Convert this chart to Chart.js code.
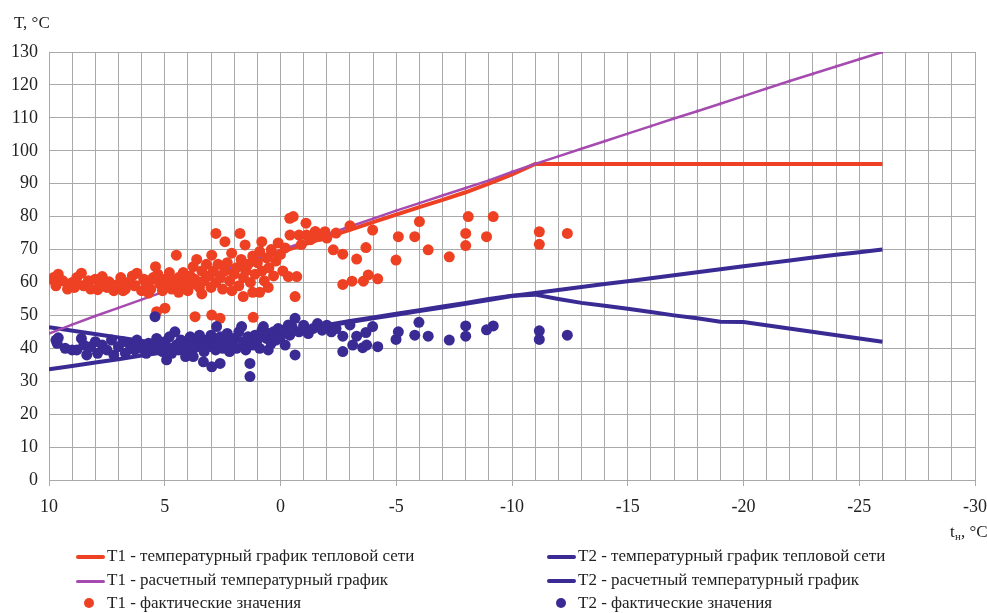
<!DOCTYPE html>
<html>
<head>
<meta charset="utf-8">
<script src="https://cdn.jsdelivr.net/npm/chart.js@4.4.1/dist/chart.umd.min.js"></script>
<style>
  body { margin: 0; background: #fff; }
  #wrap { position: relative; width: 987px; height: 613px; }
  .leg { position: absolute; font: 17px "Liberation Serif", "Times New Roman", serif; color: #222; white-space: nowrap; line-height: 20px; }
  .sw { position: absolute; height: 4px; width: 29px; border-radius: 2px; }
  .dot { position: absolute; width: 10px; height: 10px; border-radius: 50%; }
</style>
</head>
<body>
<div id="wrap">
  <canvas id="chart-temp"></canvas>
  <div class="sw" style="left:76px;top:555px;background:#ee4023"></div>
  <div class="leg" style="left:107px;top:546px">T1 - температурный график тепловой сети</div>
  <div class="sw" style="left:76px;top:580px;height:3px;background:#a54bb0"></div>
  <div class="leg" style="left:107px;top:570px">T1 - расчетный температурный график</div>
  <div class="dot" style="left:84px;top:598px;background:#ee4023"></div>
  <div class="leg" style="left:107px;top:593px">T1 - фактические значения</div>

  <div class="sw" style="left:547px;top:555px;background:#3a2a94"></div>
  <div class="leg" style="left:578px;top:546px">T2 - температурный график тепловой сети</div>
  <div class="sw" style="left:547px;top:579px;background:#3a2a94"></div>
  <div class="leg" style="left:578px;top:570px">T2 - расчетный температурный график</div>
  <div class="dot" style="left:556px;top:598px;background:#3a2a94"></div>
  <div class="leg" style="left:578px;top:593px">T2 - фактические значения</div>
</div>
<script>
// outdoor temperature, °C (x) and water temperature, °C (y)
const t1NetX = [10, 4, 3, 2, 1, 0, -1, -2, -3, -4, -5, -6, -7, -8, -9, -10, -11, -26];
const t1NetY = [60, 60, 62, 64.4, 66.8, 69.2, 71.5, 73.8, 76, 78.3, 80.6, 82.9, 85.1, 87.4, 90, 92.8, 96, 96];

const calcX = [10, 9, 8, 7, 6, 5, 4, 3, 2, 1, 0, -1, -2, -3, -4, -5, -6, -7, -8, -9, -10, -11,
  -12, -13, -14, -15, -16, -17, -18, -19, -20, -21, -22, -23, -24, -25, -26];
const t1CalcY = [44.5, 47.2, 49.8, 52.3, 54.8, 57.3, 59.8, 62.3, 64.8, 67.3, 69.8, 72.2, 74.6, 77, 79.4, 81.8, 84.1, 86.4, 88.7, 91, 93.6, 96,
  98.3, 100.6, 102.9, 105.2, 107.5, 109.8, 112, 114.3, 116.6, 118.9, 121.2, 123.4, 125.6, 127.8, 130];
const t2CalcY = [33.6, 34.6, 35.7, 36.7, 37.8, 38.8, 39.9, 41, 42.2, 43.3, 44.5, 45.6, 46.8, 48, 49.1, 50.2, 51.3, 52.4, 53.5, 54.7, 55.9, 56.8,
  57.7, 58.6, 59.5, 60.4, 61.3, 62.2, 63.1, 64, 64.9, 65.8, 66.7, 67.6, 68.4, 69.2, 70];

const t2NetX = [10, 4, 3, 2, 1, 0, -1, -2, -3, -4, -5, -6, -7, -8, -9, -10, -11, -12, -13, -14, -15, -16, -17, -18, -19, -20, -26];
const t2NetY = [46.4, 40.2, 41.3, 42.5, 43.6, 44.8, 45.9, 47.1, 48.3, 49.4, 50.5, 51.6, 52.7, 53.8, 55, 56, 56.3, 55, 53.8, 52.9, 52, 51, 50, 49.1, 48.1, 48, 42];

const t1FactX = [9.8, 9.7, 9.6, 9.4, 9.2, 9.0, 8.8, 8.6, 8.5, 8.3, 8.2, 8.0, 7.8, 7.7, 7.5, 7.4, 7.2, 7.0, 6.9, 6.7,
  6.6, 6.4, 6.3, 6.2, 6.0, 5.9, 5.8, 5.6, 5.5, 5.4, 5.3, 5.2, 5.1, 5.0, 4.9, 4.8, 4.7, 4.6, 4.5, 4.4,
  4.3, 4.2, 4.1, 4.0, 3.9, 3.8, 3.77, 3.7, 3.62, 3.5, 3.4, 3.3, 3.2, 3.1, 3.0, 2.97, 2.9, 2.8, 2.79, 2.7,
  2.6, 2.5, 2.4, 2.4, 2.3, 2.2, 2.11, 2.0, 1.9, 1.8, 1.75, 1.7, 1.6, 1.53, 1.5, 1.4, 1.3, 1.2, 1.1, 1.0,
  0.9, 0.81, 0.8, 0.7, 0.6, 0.53, 0.5, 0.4, 0.3, 0.2, 0.1, 0.0, -0.1, -0.2, -0.34, -0.4, -0.41, -0.55, -0.63, -0.7,
  -0.8, -0.9, -1.1, -1.13, -1.3, -1.5, -1.7, -1.92, -2.0, -2.28, -2.4, -2.69, -2.69, -3.0, -3.09, -3.29, -3.58, -3.69, -3.79, -3.98,
  -4.2, -4.99, -5.09, -5.8, -6.0, -6.38, -7.29, -8.0, -8.0, -8.11, -8.9, -9.19, -11.18, -11.18, -12.39,
  5.35, 4.99, 3.69, 2.97, 2.61, 1.18, 1.61, 0.9, 6.8, 8.9, 7.9, 5.7, 4.4, 3.4, 2.1, 1.2];
const t1FactY = [61.5, 59, 62.5, 60.5, 58, 60, 61.5, 62.8, 59, 60.5, 58, 61, 59.5, 61.8, 58.5, 60.2, 57.5, 59.5, 61.5, 58,
  60, 62, 59, 62.8, 57.5, 61, 59.5, 58, 61.5, 64.8, 62.5, 59.5, 57.5, 61, 59.8, 63, 58, 60.5, 68.3, 61.5,
  58.5, 63, 60, 57.5, 62, 59.5, 64.8, 61, 67, 58.5, 63.5, 60.5, 65.5, 62, 58.5, 68.3, 63.5, 60, 74.9, 65.5,
  61.5, 58, 72.4, 63.5, 66, 60.5, 68.9, 62.5, 64.5, 59, 74.9, 67, 61.5, 71.4, 63.5, 65.5, 60, 68, 62.5, 66,
  69.4, 72.4, 63.5, 60.5, 67.5, 58.5, 64.5, 70, 62, 66.5, 72, 68.5, 63.5, 70.5, 61.8, 79.5, 74.4, 80, 55.7, 61.8,
  74.4, 71.5, 78, 74.4, 73, 75.5, 74, 75.4, 73.5, 69.9, 75, 68.6, 59.4, 77.2, 60.4, 67.1, 60.4, 70.6, 62.3, 75.9,
  61.1, 66.8, 73.9, 73.9, 78.5, 69.9, 67.8, 74.9, 71.2, 80, 73.9, 80, 75.4, 71.6, 74.9,
  51.1, 52.2, 49.6, 50.1, 49.1, 49.4, 55.7, 57, 57.5, 58.5, 57.8, 56.8, 57, 56.5, 57.5, 57];

const t2FactX = [9.7, 9.6, 9.65, 9.3, 9.0, 8.8, 8.6, 8.5, 8.37, 8.2, 8.0, 7.9, 7.7, 7.5, 7.3, 7.2, 7.0, 6.8, 6.7, 6.5,
  6.3, 6.2, 6.0, 5.8, 5.7, 5.5, 5.42, 5.35, 5.2, 5.1, 5.0, 4.92, 4.9, 4.8, 4.7, 4.56, 4.5, 4.4, 4.3, 4.2,
  4.1, 4.0, 3.9, 3.8, 3.77, 3.7, 3.6, 3.5, 3.4, 3.33, 3.3, 3.2, 3.1, 3.0, 2.97, 2.9, 2.8, 2.76, 2.7, 2.61,
  2.6, 2.5, 2.4, 2.3, 2.2, 2.1, 2.0, 1.9, 1.8, 1.68, 1.6, 1.5, 1.4, 1.32, 1.32, 1.2, 1.1, 1.0, 0.9, 0.8,
  0.74, 0.6, 0.53, 0.5, 0.4, 0.3, 0.2, 0.1, 0.0, -0.1, -0.2, -0.34, -0.4, -0.5, -0.63, -0.63, -0.8, -1.0, -1.2, -1.4,
  -1.6, -1.8, -2.0, -2.2, -2.4, -2.69, -2.69, -3.0, -3.12, -3.29, -3.55, -3.69, -3.72, -3.98, -4.2, -4.99, -5.09, -5.8, -5.98, -6.38,
  -7.29, -8.0, -8.0, -8.9, -9.19, -11.18, -11.18, -12.39];
const t2FactY = [42.5, 43.2, 41.5, 40, 39.5, 39.5, 43, 41, 38, 40.5, 42, 38.5, 41, 39.5, 42.5, 38, 40.5, 42, 38.5, 41,
  39.5, 42.5, 40, 38.5, 41.5, 40, 49.6, 43, 41, 39, 42, 36.5, 40.5, 43.5, 38.5, 45, 41, 39.5, 42.5, 40,
  37.5, 41.5, 43.5, 39.5, 37.5, 42, 40.5, 44, 41.5, 35.9, 39, 42.5, 40.5, 44, 34.4, 42, 39.5, 46.6, 41, 35.4,
  43.5, 40, 42, 44.5, 39, 41.5, 43, 40, 45, 46.6, 42, 39.5, 43.5, 35.4, 31.4, 41, 44, 42.5, 40, 45.5,
  46.6, 43, 39.5, 44.5, 41.5, 45, 42.5, 46, 43.5, 45.5, 41, 47.1, 44, 46.5, 49.1, 38, 45, 47, 44.5, 46,
  47.5, 45.5, 47, 45, 46, 43.7, 39, 47.1, 41, 43.7, 40.2, 44.8, 41, 46.6, 40.5, 42.7, 45, 44, 47.9, 43.7,
  42.5, 46.8, 43.7, 45.6, 46.8, 45.3, 42.7, 44];

const red = "#ee4023";
const purple = "#a54bb0";
const blue = "#3a2a94";
const gridColor = "#a9a9a9";
const serif = { family: '"Liberation Serif", "Times New Roman", serif', size: 18 };

function pts(xs, ys) {
  return xs.map((x, i) => ({ x: x, y: ys[i] }));
}

const axisTitles = {
  id: "axisTitles",
  afterDraw(chart) {
    const ctx = chart.ctx;
    ctx.save();
    ctx.fillStyle = "#222";
    ctx.font = '17px "Liberation Serif", serif';
    ctx.textBaseline = "alphabetic";
    ctx.fillText("T, °C", 14, 28);
    ctx.fillText("t", 950, 537);
    ctx.font = '11px "Liberation Serif", serif';
    ctx.fillText("н", 955, 540);
    ctx.font = '17px "Liberation Serif", serif';
    ctx.fillText(", °C", 961, 537);
    ctx.restore();
  },
};

new Chart(document.getElementById("chart-temp"), {
  type: "scatter",
  data: {
    datasets: [
      {
        label: "T1 - температурный график тепловой сети",
        data: pts(t1NetX, t1NetY),
        showLine: true,
        borderColor: red,
        backgroundColor: red,
        borderWidth: 4,
        pointRadius: 0,
        order: 3,
      },
      {
        label: "T1 - расчетный температурный график",
        data: pts(calcX, t1CalcY),
        showLine: true,
        borderColor: purple,
        backgroundColor: purple,
        borderWidth: 2.5,
        pointStyle: "line",
        rotation: 90,
        pointRadius: 2,
        pointBorderWidth: 1,
        order: 2,
      },
      {
        label: "T2 - температурный график тепловой сети",
        data: pts(t2NetX, t2NetY),
        showLine: true,
        borderColor: blue,
        backgroundColor: blue,
        borderWidth: 4,
        pointRadius: 0,
        order: 3,
      },
      {
        label: "T2 - расчетный температурный график",
        data: pts(calcX, t2CalcY),
        showLine: true,
        borderColor: blue,
        backgroundColor: blue,
        borderWidth: 4,
        pointRadius: 0,
        order: 3,
      },
      {
        label: "T1 - фактические значения",
        data: pts(t1FactX, t1FactY),
        backgroundColor: red,
        borderColor: red,
        pointRadius: 5.5,
        borderWidth: 0,
        order: 1,
      },
      {
        label: "T2 - фактические значения",
        data: pts(t2FactX, t2FactY),
        backgroundColor: blue,
        borderColor: blue,
        pointRadius: 5.5,
        borderWidth: 0,
        order: 0,
      },
    ],
  },
  options: {
    responsive: true,
    maintainAspectRatio: false,
    animation: false,
    layout: { padding: { top: 52, right: 0, bottom: 93, left: 0 } },
    plugins: {
      legend: { display: false },
      tooltip: { enabled: false },
    },
    scales: {
      x: {
        type: "linear",
        reverse: true,
        min: -30,
        max: 10,
        afterFit: (s) => {
          s.height = 40;
          s.paddingLeft = 0;
          s.paddingRight = 12;
        },
        ticks: {
          stepSize: 1,
          autoSkip: false,
          maxRotation: 0,
          padding: 10,
          color: "#222",
          font: serif,
          callback: (v) => (v % 5 === 0 ? String(v) : ""),
        },
        grid: {
          color: gridColor,
          lineWidth: 1,
          tickLength: 6,
          tickColor: (c) => (c.tick && c.tick.value % 5 === 0 ? gridColor : "rgba(0,0,0,0)"),
        },
        border: { color: gridColor },
      },
      y: {
        min: 0,
        max: 130,
        afterFit: (s) => { s.width = 49; },
        ticks: {
          stepSize: 5,
          padding: 11,
          color: "#222",
          font: serif,
          callback: (v) => (v % 10 === 0 ? String(v) : ""),
        },
        grid: { color: gridColor, lineWidth: 1, drawTicks: false },
        border: { color: gridColor },
      },
    },
  },
  plugins: [axisTitles],
});
</script>
</body>
</html>
